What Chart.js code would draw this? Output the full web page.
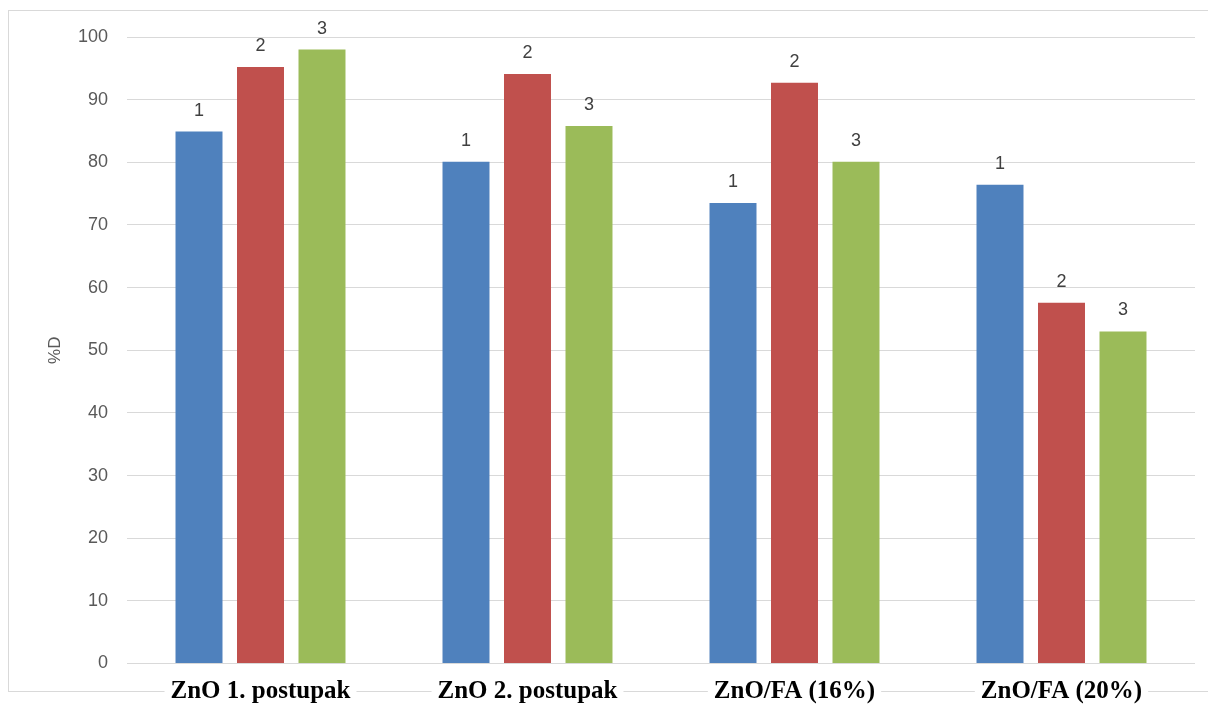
<!DOCTYPE html>
<html>
<head>
<meta charset="utf-8">
<script src="https://cdn.jsdelivr.net/npm/chart.js@4/dist/chart.umd.min.js"></script>
<style>
  html, body { margin: 0; padding: 0; background: #fff; }
  #wrap { width: 1208px; height: 706px; }
</style>
</head>
<body>
<div id="wrap"><canvas id="bar-chart"></canvas></div>
<script>
// categories and series
var categories = ["ZnO 1. postupak", "ZnO 2. postupak", "ZnO/FA (16%)", "ZnO/FA (20%)"];
var series1 = [84.9, 80.1, 73.5, 76.4];
var series2 = [95.2, 94.1, 92.7, 57.6];
var series3 = [98.0, 85.8, 80.1, 53.0];
var yTicks = [0, 10, 20, 30, 40, 50, 60, 70, 80, 90, 100];

// frame around the whole chart
var framePlugin = {
  id: 'frame',
  beforeDraw: function(chart) {
    var ctx = chart.ctx;
    ctx.save();
    ctx.strokeStyle = '#d9d9d9';
    ctx.lineWidth = 1;
    ctx.strokeRect(8.5, 10.5, 1210, 681);
    ctx.restore();
  }
};

// number of the series above every bar
var barLabels = {
  id: 'barLabels',
  afterDatasetsDraw: function(chart) {
    var ctx = chart.ctx;
    ctx.save();
    ctx.font = '18px "Liberation Sans", Arial, sans-serif';
    ctx.fillStyle = '#404040';
    ctx.textAlign = 'center';
    ctx.textBaseline = 'alphabetic';
    chart.data.datasets.forEach(function(ds, i) {
      chart.getDatasetMeta(i).data.forEach(function(bar) {
        ctx.fillText(ds.label, bar.x, bar.y - 16);
      });
    });
    ctx.restore();
  }
};

new Chart(document.getElementById("bar-chart"), {
  type: 'bar',
  data: {
    labels: categories,
    datasets: [
      { label: "1", backgroundColor: "#4f81bd", data: series1 },
      { label: "2", backgroundColor: "#c0504d", data: series2 },
      { label: "3", backgroundColor: "#9bbb59", data: series3 }
    ]
  },
  options: {
    responsive: true,
    maintainAspectRatio: false,
    animation: false,
    categoryPercentage: 0.691,
    barPercentage: 0.764,
    layout: { padding: { top: 37, right: 13, left: 0, bottom: 0 } },
    plugins: {
      legend: { display: false },
      tooltip: { enabled: false }
    },
    scales: {
      x: {
        grid: { display: false },
        border: { display: false },
        afterFit: function(scale) { scale.height = 42.5; },
        ticks: {
          color: '#000',
          padding: 5,
          font: { family: '"Liberation Serif", "Times New Roman", serif', size: 25, weight: 'bold' },
          showLabelBackdrop: true,
          backdropColor: '#fff',
          backdropPadding: { top: 0, bottom: 0, left: 6, right: 6 },
          maxRotation: 0
        }
      },
      y: {
        min: 0,
        max: 100,
        afterFit: function(scale) { scale.width = 127; },
        afterBuildTicks: function(scale) {
          scale.ticks = yTicks.map(function(v) { return { value: v }; });
        },
        grid: { color: '#d9d9d9', lineWidth: 1, drawTicks: false },
        border: { display: false },
        ticks: {
          color: '#595959',
          padding: 19,
          font: { family: '"Liberation Sans", Arial, sans-serif', size: 18 }
        },
        title: {
          display: true,
          text: '%D',
          color: '#595959',
          font: { family: '"Liberation Sans", Arial, sans-serif', size: 17 },
          padding: { top: 45, bottom: 0 }
        }
      }
    }
  },
  plugins: [framePlugin, barLabels]
});
</script>
</body>
</html>
